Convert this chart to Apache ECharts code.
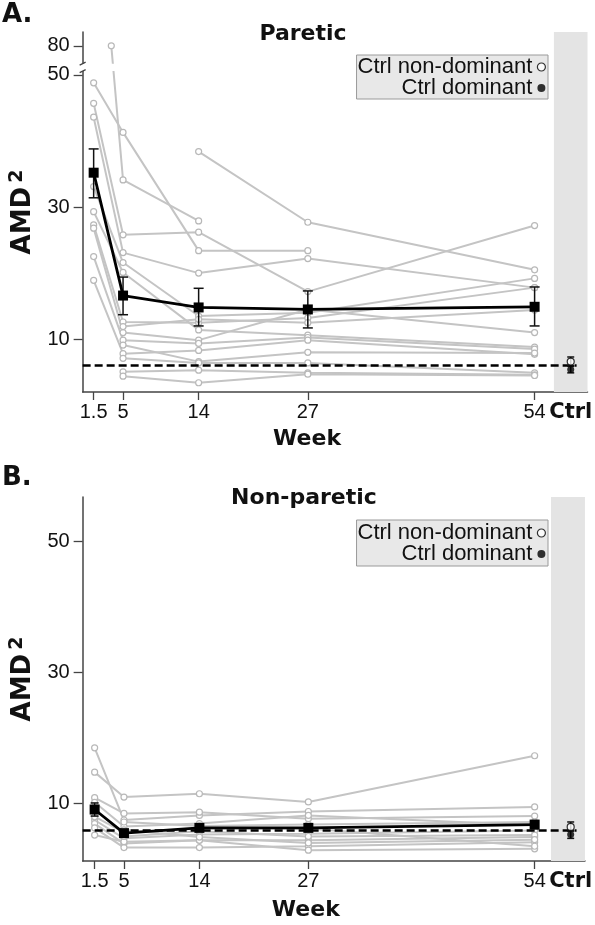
<!DOCTYPE html>
<html><head><meta charset="utf-8">
<script src="https://cdn.jsdelivr.net/npm/echarts@6/dist/echarts.min.js"></script>
<style>html,body{margin:0;padding:0;background:#fff}#c{width:595px;height:925px}</style>
</head><body><div id="c"></div>
<script>
// ---------- data ----------
const weeks = [1.5, 5, 14, 27, 54];
const ctrlX = 58.3;
const ctrlLabel = 'Ctrl';
const seriesCtrlNonDom = 'Ctrl non-dominant';
const seriesCtrlDom = 'Ctrl dominant';

// Panel A: paretic (AMD², one row per subject, aligned with weeks; null = missing)
const pareticSubjects = [
  [48.8, 41.3, 23.4, 23.4, null],
  [45.7, 25.8, 26.2, 17.2, 27.2],
  [43.6, 23.1, 20.0, 22.2, 17.8],
  [33.1, 21.6, 13.5, 14.0, 19.2],
  [29.3, 20.1, 11.4, 10.6, 8.8],
  [27.3, 12.6, 12.5, 13.2, 17.8],
  [26.8, 11.0, 9.85, 14.5, 11.0],
  [22.5, 9.85, 9.35, 10.25, 8.5],
  [18.9, 7.8, 8.3, 9.85, 7.7],
  [null, null, 38.4, 27.7, 20.5],
  [null, 11.9, 13.0, 12.5, 14.4],
  [null, 9.1, 6.6, 8.0, 7.9],
  [null, 7.1, 6.4, 6.4, 4.9],
  [null, 5.05, 5.3, 4.9, 4.6],
  [null, 4.4, 3.4, 4.7, 4.5]
];
const pareticOutlierWeeks = [3.6, 5, 14];
const pareticOutlierValues = [80, 34.1, 27.9];
const pareticMean = [35.2, 16.6, 14.8, 14.5, 14.9];
const pareticErrLow = [31.4, 13.7, 12.0, 11.7, 12.0];
const pareticErrHigh = [38.8, 19.4, 17.7, 17.3, 17.9];
const pareticCtrlMean = 6.0;
const pareticCtrlNonDom = [6.6, 6.0, 7.3];   // value, low, high
const pareticCtrlDom = [5.4, 4.9, 5.9];
const pareticYTicks = [10, 30, 50, 80];

// Panel B: non-paretic
const nonPareticSubjects = [
  [18.5, 7.5, 8.2, 8.8, 9.5],
  [14.8, 11.0, 11.5, 10.25, 17.3],
  [10.9, 8.5, 8.7, 7.7, 8.1],
  [10.2, 6.5, 6.95, 8.2, 6.7],
  [7.5, 4.7, 5.3, 5.4, 5.9],
  [6.95, 3.9, 4.4, 4.4, 4.9],
  [6.3, 3.3, 3.3, 3.5, 4.1],
  [5.2, 4.2, 4.4, 2.9, 3.1],
  [8.0, 5.6, 6.2, 6.2, 3.5],
  [null, 5.0, 5.8, 5.0, 5.2],
  [null, 6.0, 4.9, 4.0, 4.5],
  [null, 7.2, 6.6, 6.8, 7.2]
];
const nonPareticMean = [9.1, 5.5, 6.3, 6.3, 6.8];
const nonPareticErrLow = [8.1, 5.0, 5.8, 5.8, 6.2];
const nonPareticErrHigh = [10.1, 6.0, 6.8, 6.8, 7.4];
const nonPareticCtrlMean = 5.9;
const nonPareticCtrlNonDom = [6.45, 5.9, 7.2];
const nonPareticCtrlDom = [5.3, 4.7, 5.8];
const nonPareticYTicks = [10, 30, 50];

// ---------- axis break (panel A: 50 -> 80 compressed) ----------
const BREAK_FROM = 50, BREAK_TO = 80, BREAK_SPAN = 4.4;
const fwd = v => v <= BREAK_FROM ? v : BREAK_FROM + (v - BREAK_FROM) * BREAK_SPAN / (BREAK_TO - BREAK_FROM);
const inv = d => d <= BREAK_FROM ? d : BREAK_FROM + (d - BREAK_FROM) * (BREAK_TO - BREAK_FROM) / BREAK_SPAN;
const ident = v => v;
const BREAK_GAP = [54, 61.6]; // data range hidden by the break mark

const TICK_FONT = 'Liberation Sans, Arial, sans-serif';
const BOLD_FONT = 'DejaVu Sans, sans-serif';
const GRAY = '#c4c4c4';

function subjectSeries(rows, xs, tf, idx) {
  return rows.map(r => ({
    type: 'line', xAxisIndex: idx, yAxisIndex: idx, silent: true, z: 2,
    data: r.map((v, i) => v == null ? null : [xs[i], tf(v)]).filter(p => p),
    symbol: 'circle', symbolSize: 6,
    lineStyle: { color: GRAY, width: 2 },
    itemStyle: { color: '#fff', borderColor: '#b8b8b8', borderWidth: 1.2 }
  }));
}
function errSeries(xs, lo, hi, tf, idx, cap, z) {
  return {
    type: 'custom', xAxisIndex: idx, yAxisIndex: idx, silent: true, z: z,
    encode: { x: 0, y: [1, 2] },
    data: xs.map((x, i) => [x, tf(lo[i]), tf(hi[i])]),
    renderItem(params, api) {
      const x = api.value(0);
      const a = api.coord([x, api.value(1)]), b = api.coord([x, api.value(2)]);
      const w = cap / 2, st = { stroke: '#111', lineWidth: 1.5 };
      return { type: 'group', children: [
        { type: 'line', shape: { x1: a[0], y1: a[1], x2: b[0], y2: b[1] }, style: st },
        { type: 'line', shape: { x1: a[0] - w, y1: a[1], x2: a[0] + w, y2: a[1] }, style: st },
        { type: 'line', shape: { x1: b[0] - w, y1: b[1], x2: b[0] + w, y2: b[1] }, style: st }
      ]};
    }
  };
}
function panelSeries(idx, rows, mean, lo, hi, ctrlMean, nonDom, dom, tf, band, cap) {
  const s = [];
  s.push({ type: 'line', xAxisIndex: idx, yAxisIndex: idx, silent: true, z: 1, data: [], symbol: 'none',
    markArea: { silent: true, itemStyle: { color: '#e4e4e4' }, data: [[{ xAxis: band[0] }, { xAxis: band[1] }]] } });
  s.push(...subjectSeries(rows, weeks, tf, idx));
  s.push(errSeries(weeks, lo, hi, tf, idx, cap, 8));
  s.push({ type: 'line', xAxisIndex: idx, yAxisIndex: idx, silent: true, z: 9,
    data: weeks.map((w, i) => [w, tf(mean[i])]), symbol: 'rect', symbolSize: 10,
    lineStyle: { color: '#000', width: 2.8 }, itemStyle: { color: '#000' } });
  s.push({ type: 'line', xAxisIndex: idx, yAxisIndex: idx, silent: true, z: 7,
    data: [[band[2], tf(ctrlMean)], [ctrlX + 0.7, tf(ctrlMean)]], symbol: 'none',
    lineStyle: { color: '#000', width: 2.5, type: [8, 4] } });
  s.push(errSeries([ctrlX], [nonDom[1]], [nonDom[2]], tf, idx, 7, 8));
  s.push(errSeries([ctrlX], [dom[1]], [dom[2]], tf, idx, 7, 8));
  s.push({ name: seriesCtrlNonDom, type: 'scatter', xAxisIndex: idx, yAxisIndex: idx, z: 10,
    data: [[ctrlX, tf(nonDom[0])]], symbol: 'circle', symbolSize: 7,
    itemStyle: { color: '#fff', borderColor: '#000', borderWidth: 1.2 } });
  s.push({ name: seriesCtrlDom, type: 'scatter', xAxisIndex: idx, yAxisIndex: idx, z: 10,
    data: [[ctrlX, tf(dom[0])]], symbol: 'circle', symbolSize: 7, itemStyle: { color: '#000' } });
  return s;
}

const series = [
  ...panelSeries(0, pareticSubjects, pareticMean, pareticErrLow, pareticErrHigh, pareticCtrlMean,
    pareticCtrlNonDom, pareticCtrlDom, fwd, [56.3, 60.3, 0.19], 10),
  {
    type: 'line', xAxisIndex: 0, yAxisIndex: 0, silent: true, z: 2,
    data: pareticOutlierWeeks.map((w, i) => [w, fwd(pareticOutlierValues[i])]),
    symbol: 'circle', symbolSize: 6, lineStyle: { color: GRAY, width: 2 },
    itemStyle: { color: '#fff', borderColor: '#b8b8b8', borderWidth: 1.2 }
  },
  ...panelSeries(1, nonPareticSubjects, nonPareticMean, nonPareticErrLow, nonPareticErrHigh, nonPareticCtrlMean,
    nonPareticCtrlNonDom, nonPareticCtrlDom, ident, [55.95, 60.0, 0.07], 8)
];

function xAxis(idx, min, max, gap) {
  return {
    type: 'value', gridIndex: idx, min: min, max: max,
    name: 'Week', nameLocation: 'middle', nameGap: gap,
    nameTextStyle: { fontFamily: BOLD_FONT, fontWeight: 'bold', fontSize: 22, color: '#111', padding: [0, 56, 0, 0] },
    splitLine: { show: false },
    axisLine: { onZero: false, lineStyle: { color: '#444', width: 1.5 } },
    axisTick: { customValues: weeks, length: 8, lineStyle: { color: '#444', width: 1.3 } },
    axisLabel: {
      customValues: [...weeks, ctrlX], margin: 10, fontFamily: TICK_FONT, fontSize: 20, color: '#111',
      formatter: v => Math.abs(v - ctrlX) < 1e-6 ? '{b|' + ctrlLabel + '}' : String(v),
      rich: { b: { fontFamily: BOLD_FONT, fontWeight: 'bold', fontSize: 21, color: '#111' } }
    }
  };
}
function yAxis(idx, min, max, ticks, tf, invf) {
  return {
    type: 'value', gridIndex: idx, min: min, max: max,
    name: 'AMD{s|2}', nameLocation: 'middle', nameGap: 40,
    nameTextStyle: { fontFamily: BOLD_FONT, fontWeight: 'bold', fontSize: 26, color: '#111',
      rich: { s: { fontFamily: BOLD_FONT, fontWeight: 'bold', fontSize: 19, color: '#111', verticalAlign: 'top', padding: [0, 0, 12, 4] } } },
    splitLine: { show: false },
    axisLine: { onZero: false, lineStyle: { color: '#444', width: 1.5 } },
    axisTick: { customValues: ticks.map(tf), length: 9, lineStyle: { color: '#444', width: 1.3 } },
    axisLabel: { customValues: ticks.map(tf), margin: 13, fontFamily: TICK_FONT, fontSize: 20, color: '#111',
      formatter: v => String(Math.round(invf(v))) }
  };
}

const nonDomIcon = { name: seriesCtrlNonDom, icon: 'circle', itemStyle: { color: '#fff', borderColor: '#000', borderWidth: 1.2 } };
const domIcon = { name: seriesCtrlDom, icon: 'circle', itemStyle: { color: '#000' } };
const legendBase = {
  data: [nonDomIcon, domIcon], orient: 'vertical', align: 'right', itemWidth: 8, itemHeight: 8, itemGap: -1,
  selectedMode: false, right: 47, backgroundColor: '#e8e8e8', borderColor: '#9a9a9a', borderWidth: 1,
  textStyle: { fontFamily: TICK_FONT, fontSize: 22, lineHeight: 20, color: '#111' }
};

const txt = (id, x, y, text, size, align) => ({ id: id, type: 'text', x: x, y: y, z: 50,
  style: { text: text, fontFamily: BOLD_FONT, fontWeight: 'bold', fontSize: size, fill: '#111', align: align || 'left', verticalAlign: 'top' } });

const option = {
  animation: false,
  backgroundColor: '#fff',
  grid: [
    { left: 76, top: 32, right: 5, height: 360 },
    { left: 76, top: 497, right: 4, height: 364 }
  ],
  xAxis: [xAxis(0, 0.19, 60.3, 36), xAxis(1, 0.07, 60.0, 38)],
  yAxis: [yAxis(0, 2, 56.5, pareticYTicks, fwd, inv), yAxis(1, 1.25, 56.75, nonPareticYTicks, ident, ident)],
  legend: [
    Object.assign({}, legendBase, { top: 55, padding: [1, 2, 0, 1] }),
    Object.assign({}, legendBase, { top: 520, padding: [2, 2, 1, 1] })
  ],
  graphic: [
    txt('tA', 2, 2, 'A.', 26), txt('tP', 303, 23, 'Paretic', 22, 'center'),
    txt('tB', 2, 465, 'B.', 26), txt('tN', 304, 487, 'Non-paretic', 22, 'center')
  ],
  series: series
};

const chart = echarts.init(document.getElementById('c'), null, { renderer: 'canvas' });
chart.setOption(option);

// axis-break marks on panel A
const yb1 = chart.convertToPixel({ yAxisIndex: 0 }, fwd(BREAK_GAP[0]));
const yb2 = chart.convertToPixel({ yAxisIndex: 0 }, fwd(BREAK_GAP[1]));
const ax = chart.convertToPixel({ xAxisIndex: 0 }, 0.19);
chart.setOption({ graphic: [
  { id: 'brk', type: 'rect', z: 60, shape: { x: ax - 6, y: yb2, width: 50, height: yb1 - yb2 }, style: { fill: '#fff', stroke: null } },
  { id: 'brk1', type: 'line', z: 61, shape: { x1: ax - 3, y1: yb1 + 1.5, x2: ax + 3, y2: yb1 - 1.5 }, style: { stroke: '#444', lineWidth: 1.3 } },
  { id: 'brk2', type: 'line', z: 61, shape: { x1: ax - 3, y1: yb2 + 1.5, x2: ax + 3, y2: yb2 - 1.5 }, style: { stroke: '#444', lineWidth: 1.3 } }
] });
</script></body></html>
